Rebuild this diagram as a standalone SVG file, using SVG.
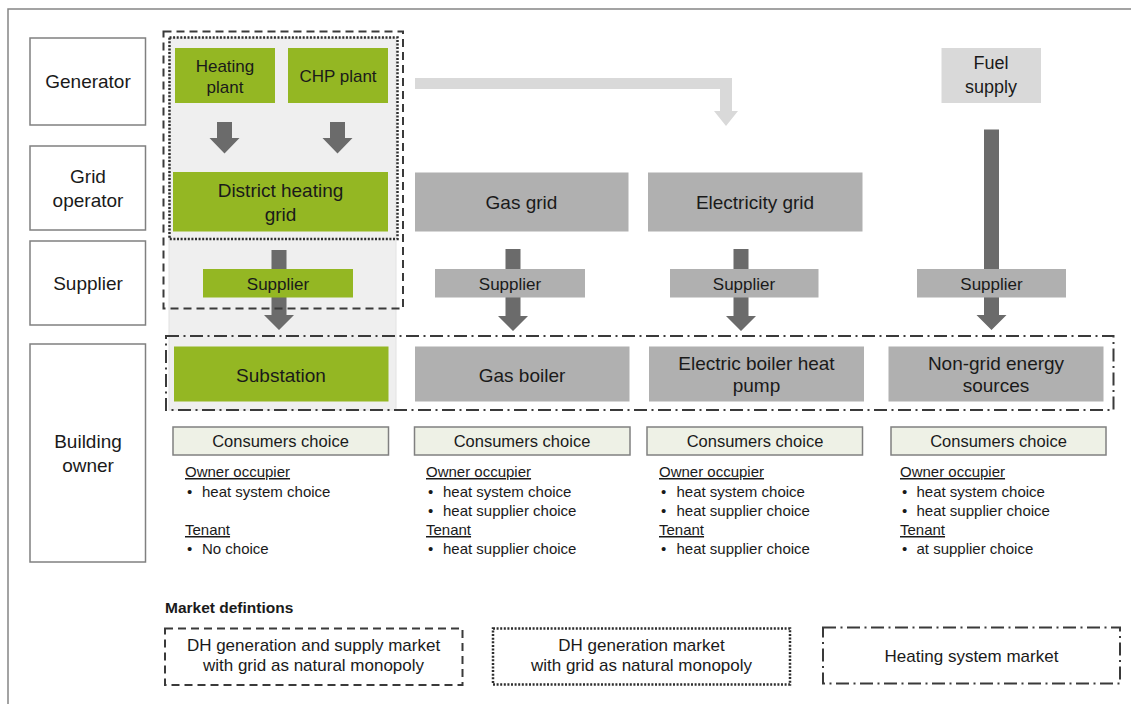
<svg xmlns="http://www.w3.org/2000/svg" width="1131" height="704" viewBox="0 0 1131 704">
<style>
text{font-family:"Liberation Sans",Arial,sans-serif;fill:#1a1a1a;}
.lab{fill:#fff;stroke:#808080;stroke-width:1.5;}
.labt{font-size:19px;text-anchor:middle;}
.g{fill:#94b723;}
.gr{fill:#b0b0b0;}
.lg{fill:#d9d9d9;}
.bt{font-size:19px;text-anchor:middle;}
.st{font-size:17px;text-anchor:middle;}
.cc{fill:#eef1e6;stroke:#808080;stroke-width:1.5;}
.cct{font-size:16.5px;text-anchor:middle;}
.li{font-size:15px;}
.u{text-decoration:underline;}
.arr{fill:#6b6b6b;}
.dash{fill:none;stroke:#3a3a3a;stroke-width:2;stroke-dasharray:8 5;}
.dot{fill:none;stroke:#2e2e2e;stroke-width:2.5;stroke-dasharray:2 1.6;}
.dd{fill:none;stroke:#3a3a3a;stroke-width:2;stroke-dasharray:13 4.5 2 4.5;}
.leg{font-size:17px;text-anchor:middle;}
</style>

<rect x="8" y="9" width="1140" height="720" fill="#fff" stroke="#858585" stroke-width="1.5"/>
<rect id="dh-panel" x="169" y="38" width="227" height="372" fill="#efefef" stroke="#e2e2e2" stroke-width="1"/>

<g id="row-labels">
  <g id="lab-generator"><rect class="lab" x="30" y="38" width="115.5" height="87"/><text class="labt" x="88" y="88">Generator</text></g>
  <g id="lab-grid"><rect class="lab" x="30" y="146" width="115.5" height="84"/><text class="labt" x="88" y="182.5">Grid</text><text class="labt" x="88" y="207">operator</text></g>
  <g id="lab-supplier"><rect class="lab" x="30" y="241" width="115.5" height="84"/><text class="labt" x="88" y="290">Supplier</text></g>
  <g id="lab-owner"><rect class="lab" x="30" y="344" width="115.5" height="218"/><text class="labt" x="88" y="447.5">Building</text><text class="labt" x="88" y="471.5">owner</text></g>
</g>

<g id="connectors">
  <polygon class="lg" points="415,78 732,78 732,111 738,111 726,126 714,111 720,111 720,89 415,89"/>
  <polygon class="arr" points="217,122 232,122 232,138 239.5,138 224.5,153.5 209.5,138 217,138"/>
  <polygon class="arr" points="330,122 345,122 345,138 352.5,138 337.5,153.5 322.5,138 330,138"/>
  <polygon class="arr" points="271.5,250 286.5,250 286.5,315 294,315 279,330 264,315 271.5,315"/>
  <polygon class="arr" points="505.5,249 520.5,249 520.5,316 528,316 513,331 498,316 505.5,316"/>
  <polygon class="arr" points="733.5,249 748.5,249 748.5,316 756,316 741,331 726,316 733.5,316"/>
  <polygon class="arr" points="984,129.5 999,129.5 999,315 1006.5,315 991.5,330 976.5,315 984,315"/>
</g>

<g id="heating-plant"><rect class="g" x="175" y="48" width="100" height="55"/><text class="bt" style="font-size:17px" x="225" y="72">Heating</text><text class="bt" style="font-size:17px" x="225" y="93">plant</text></g>
<g id="chp-plant"><rect class="g" x="288" y="48" width="100" height="55"/><text class="bt" style="font-size:17px" x="338" y="82">CHP plant</text></g>
<g id="fuel-supply"><rect class="lg" x="941.5" y="48" width="99.5" height="55"/><text class="bt" style="font-size:18px" x="991" y="68.5">Fuel</text><text class="bt" style="font-size:18px" x="991" y="93">supply</text></g>

<g id="dh-grid"><rect class="g" x="173" y="172" width="215" height="59.5"/><text class="bt" x="280.5" y="196.5">District heating</text><text class="bt" x="280.5" y="220.5">grid</text></g>
<g id="gas-grid"><rect class="gr" x="415" y="172.5" width="213.5" height="59"/><text class="bt" x="521.5" y="209">Gas grid</text></g>
<g id="electricity-grid"><rect class="gr" x="648" y="172.5" width="214.5" height="59"/><text class="bt" x="755" y="209">Electricity grid</text></g>

<g id="supplier-dh"><rect class="g" x="203" y="269" width="150" height="28.5"/><text class="st" x="278" y="289.5">Supplier</text></g>
<g id="supplier-gas"><rect class="gr" x="435" y="269" width="150" height="28.5"/><text class="st" x="510" y="289.5">Supplier</text></g>
<g id="supplier-elec"><rect class="gr" x="670" y="269" width="148.5" height="28.5"/><text class="st" x="744" y="289.5">Supplier</text></g>
<g id="supplier-fuel"><rect class="gr" x="917" y="269" width="149" height="28.5"/><text class="st" x="991.5" y="289.5">Supplier</text></g>

<g id="substation"><rect class="g" x="174" y="346.5" width="214.5" height="55"/><text class="bt" x="281" y="381.5">Substation</text></g>
<g id="gas-boiler"><rect class="gr" x="415" y="346.5" width="214.5" height="55"/><text class="bt" x="522" y="381.5">Gas boiler</text></g>
<g id="electric-boiler"><rect class="gr" x="649" y="346.5" width="215" height="55"/><text class="bt" x="756.5" y="369.5">Electric boiler heat</text><text class="bt" x="756.5" y="391.5">pump</text></g>
<g id="non-grid"><rect class="gr" x="888.5" y="346.5" width="215" height="55"/><text class="bt" x="996" y="369.5">Non-grid energy</text><text class="bt" x="996" y="391.5">sources</text></g>

<g id="choice-dh">
  <rect class="cc" x="173" y="427" width="215.5" height="28"/><text class="cct" x="280.5" y="447">Consumers choice</text>
  <text class="li u" x="185" y="477">Owner occupier</text>
  <text class="li" x="187" y="497">•</text><text class="li" x="202" y="497">heat system choice</text>
  <text class="li u" x="185" y="535">Tenant</text>
  <text class="li" x="187" y="554">•</text><text class="li" x="202" y="554">No choice</text>
</g>
<g id="choice-gas">
  <rect class="cc" x="414.5" y="427" width="215.5" height="28"/><text class="cct" x="522" y="447">Consumers choice</text>
  <text class="li u" x="426" y="477">Owner occupier</text>
  <text class="li" x="428" y="497">•</text><text class="li" x="443" y="497">heat system choice</text>
  <text class="li" x="428" y="516">•</text><text class="li" x="443" y="516">heat supplier choice</text>
  <text class="li u" x="426" y="535">Tenant</text>
  <text class="li" x="428" y="554">•</text><text class="li" x="443" y="554">heat supplier choice</text>
</g>
<g id="choice-elec">
  <rect class="cc" x="647" y="427" width="215.5" height="28"/><text class="cct" x="755" y="447">Consumers choice</text>
  <text class="li u" x="659" y="477">Owner occupier</text>
  <text class="li" x="661" y="497">•</text><text class="li" x="676.5" y="497">heat system choice</text>
  <text class="li" x="661" y="516">•</text><text class="li" x="676.5" y="516">heat supplier choice</text>
  <text class="li u" x="659" y="535">Tenant</text>
  <text class="li" x="661" y="554">•</text><text class="li" x="676.5" y="554">heat supplier choice</text>
</g>
<g id="choice-nongrid">
  <rect class="cc" x="891" y="427" width="215" height="28"/><text class="cct" x="998.5" y="447">Consumers choice</text>
  <text class="li u" x="900" y="477">Owner occupier</text>
  <text class="li" x="902" y="497">•</text><text class="li" x="916.5" y="497">heat system choice</text>
  <text class="li" x="902" y="516">•</text><text class="li" x="916.5" y="516">heat supplier choice</text>
  <text class="li u" x="900" y="535">Tenant</text>
  <text class="li" x="902" y="554">•</text><text class="li" x="916.5" y="554">at supplier choice</text>
</g>

<g id="market-boundaries">
  <rect class="dash" x="163.5" y="31.5" width="239.5" height="277"/>
  <rect class="dot" x="169.5" y="37.5" width="228" height="201.5"/>
  <rect class="dd" x="166" y="336" width="947.5" height="74"/>
</g>

<g id="legend">
  <text x="165" y="612.5" style="font-size:15.5px;font-weight:bold">Market defintions</text>
  <g id="legend-dashed"><rect class="dash" x="165" y="628.5" width="297.5" height="56.5"/><text class="leg" x="313.5" y="650.5">DH generation and supply market</text><text class="leg" x="313.5" y="670.5">with grid as natural monopoly</text></g>
  <g id="legend-dotted"><rect class="dot" x="493" y="628.5" width="297" height="56"/><text class="leg" x="641.5" y="650.5">DH generation market</text><text class="leg" x="641.5" y="670.5">with grid as natural monopoly</text></g>
  <g id="legend-dashdot"><rect class="dd" x="823" y="627.5" width="297" height="56"/><text class="leg" x="971.5" y="661.5">Heating system market</text></g>
</g>
</svg>
